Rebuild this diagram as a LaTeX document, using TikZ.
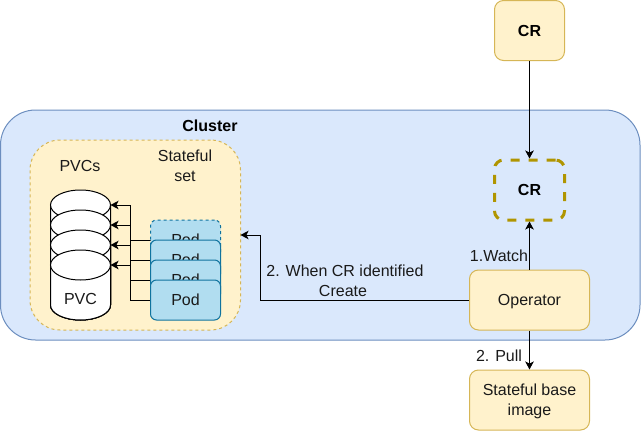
\documentclass[tikz,border=0pt]{standalone}
\usepackage{fontspec}
\setmainfont{Liberation Sans}
\usetikzlibrary{arrows.meta}
\definecolor{clfill}{HTML}{DAE8FC}
\definecolor{clline}{HTML}{6C8EBF}
\definecolor{yfill}{HTML}{FFF2CC}
\definecolor{yline}{HTML}{D6B656}
\definecolor{podfill}{HTML}{B1DDF0}
\definecolor{podline}{HTML}{10739E}
\definecolor{crline}{HTML}{B09500}
\definecolor{txt}{HTML}{1A1A1A}
\tikzset{
  base/.style={font=\fontsize{16}{20}\selectfont,text=txt,align=center,inner sep=0pt},
  box/.style={base,draw=#1,line width=1pt,rounded corners=9pt},
  ybox/.style={box=yline,fill=yfill,minimum width=120pt,minimum height=60pt,text depth=0pt,yshift=0pt},
  crbox/.style={box=yline,fill=yfill,minimum width=70pt,minimum height=60pt,font=\fontsize{16}{20}\selectfont\bfseries,text=black},
  pod/.style={box=podline,fill=podfill,minimum width=70pt,minimum height=40pt,rounded corners=6pt},
  lbl/.style={base,yshift=-0.6pt},
  conn/.style={line width=1pt,draw=black,-{Stealth[length=8pt,width=8.5pt,inset=2pt]}},
  pvc/.style={draw=black,fill=white,line width=1pt},
}
\begin{document}
\begin{tikzpicture}[x=1pt,y=-1pt]
\useasboundingbox (0,0) rectangle (641,431);
\node[box=clline,fill=clfill,rounded corners=35pt,minimum width=639.5pt,minimum height=230pt] (cluster) at (320.25,225) {};
\node[box=yline,fill=yfill,dashed,rounded corners=30pt,minimum width=210.5pt,minimum height=190pt] (sset) at (135.25,235) {};
\node[lbl,font=\fontsize{16}{20}\selectfont\bfseries,text=black] (clusterlbl) at (210,125) {Cluster};
\node[lbl] (pvcs) at (80,165) {PVCs};
\node[lbl] (ssl) at (185,165) {Stateful\\set};

% PVC cylinders
\foreach \t/\n in {190/A,210/B,230/C,250/D}{
  \draw[pvc] (50.5,\t+15) -- (50.5,305) arc[start angle=180,end angle=0,x radius=30,y radius=15]
     -- (110.5,\t+15) -- cycle;
  \draw[pvc] (80.5,\t+15) ellipse[x radius=30,y radius=15];
  \coordinate (pvc\n) at (110.5,\t+15);
}
\node[lbl] (pvclbl) at (80.5,298) {PVC};

% connectors from pods to PVCs, behind the pods
\coordinate (p1) at (150.5,240);
\coordinate (p2) at (150.5,260);
\coordinate (p3) at (150.5,280);
\coordinate (p4) at (150.5,300);
\draw[conn] (p1) -- (130.5,240) -- (130.5,205) -- (pvcA);
\draw[conn] (p2) -- (130.5,260) -- (130.5,225) -- (pvcB);
\draw[conn] (p3) -- (130.5,280) -- (130.5,245) -- (pvcC);
\draw[conn] (p4) -- (130.5,300) -- (130.5,265) -- (pvcD);

% pods
\node[pod,dashed] (pod1) at (185.5,240) {\raisebox{-0.6pt}{Pod}};
\node[pod] (pod2) at (185.5,260) {\raisebox{-0.6pt}{Pod}};
\node[pod] (pod3) at (185.5,280) {\raisebox{-0.6pt}{Pod}};
\node[pod] (pod4) at (185.5,300) {\raisebox{-0.6pt}{Pod}};

% CRs and operator
\node[crbox] (crtop) at (529.5,30.5) {CR};
\node[crbox,fill=none,draw=crline,line width=3pt,dash pattern=on 9pt off 9pt,rounded corners=9pt] (crin) at (529.5,190) {CR};
\node[ybox] (op) at (529.5,300) {Operator};
\node[ybox] (img) at (529.5,400) {Stateful base\\image};

\draw[conn] (crtop) -- (crin);
\draw[conn] (op) -- (crin);
\draw[conn] (op) -- (img);
\coordinate (ssr) at (240.5,235);
\draw[conn] (op.west) -- (260.5,300) -- (260.5,235) -- (ssr);

\node[lbl] (watch) at (499,255) {1.Watch};
\node[lbl] (create) at (345,280) {2. When CR identified\\\hspace*{-4pt}Create};
\node[lbl] (pull) at (499,355) {2. Pull};
\end{tikzpicture}
\end{document}
